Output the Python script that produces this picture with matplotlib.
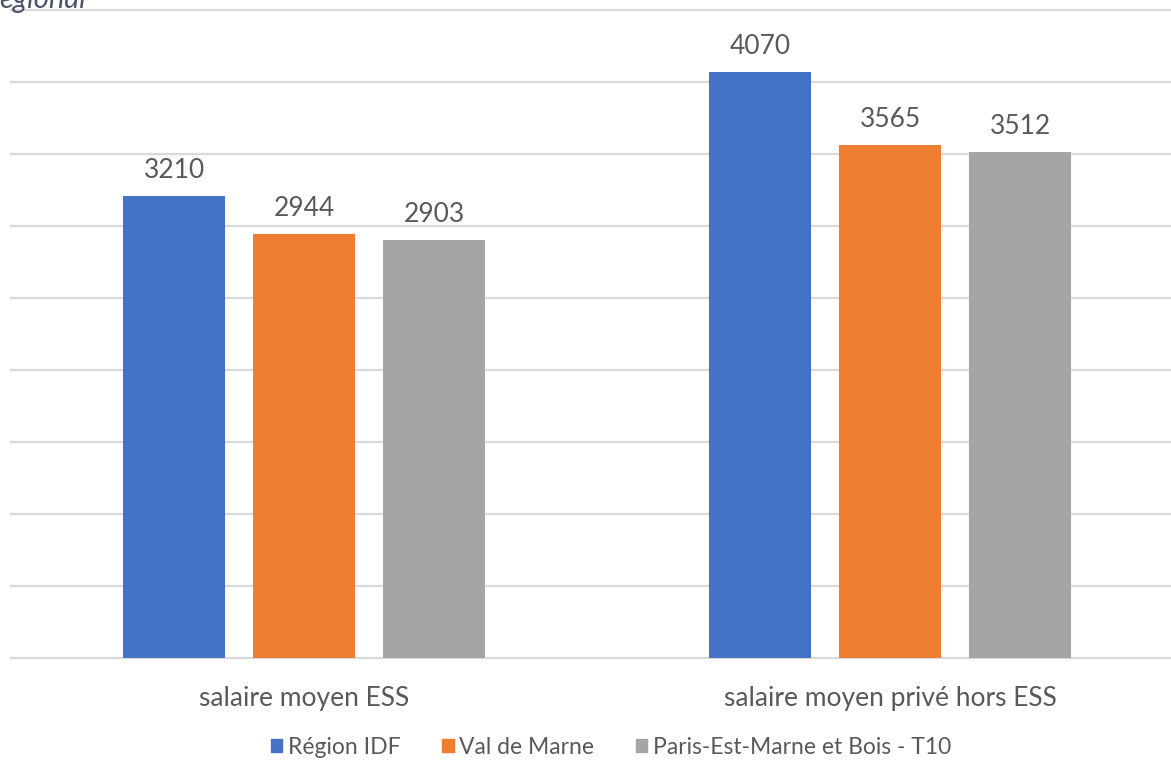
import numpy as np
import matplotlib
matplotlib.use('Agg')
import matplotlib.pyplot as plt
import matplotlib.patches as mpatches

categories = ["salaire moyen ESS", "salaire moyen privé hors ESS"]
series_names = ["Région IDF", "Val de Marne", "Paris-Est-Marne et Bois - T10"]
values = {
    "Région IDF": [3210, 4070],
    "Val de Marne": [2944, 3565],
    "Paris-Est-Marne et Bois - T10": [2903, 3512],
}
colors = ['#4472C4', '#ED7D31', '#A5A5A5']
grid_ticks = np.arange(0, 5000, 500)

plt.rcParams['font.family'] = ['Lato', 'DejaVu Sans']
TEXT = '#595959'

W, H = 1171, 760
fig = plt.figure(figsize=(W / 100, H / 100), dpi=100, facecolor='white')
# axes area runs past the right edge, as in the cropped screenshot
ax = fig.add_axes([11 / W, 102 / H, (1183 - 11) / W, (658 - 10) / H])

x = np.arange(len(categories))
bw = 102 / 586
step = 130 / 586
for k, name in enumerate(series_names):
    xs = x + (k - 1) * step
    bars = ax.bar(xs, values[name], width=bw, color=colors[k], zorder=3)
    for b, v in zip(bars, values[name]):
        ax.annotate(str(v), (b.get_x() + b.get_width() / 2, v),
                    xytext=(0, 13), textcoords='offset points',
                    ha='center', va='baseline', fontsize=19, color=TEXT)

ax.set_xlim(-0.5, 1.5)
ax.set_ylim(0, 4500)
ax.set_yticks(grid_ticks)
ax.set_yticklabels([])
ax.grid(axis='y', color='#D9D9D9', linewidth=1.6, zorder=0)
for ln in ax.get_ygridlines():
    ln.set_clip_on(False)
ax.tick_params(axis='y', length=0)
ax.set_xticks(x)
ax.set_xticklabels(categories, fontsize=19, color=TEXT)
ax.tick_params(axis='x', length=0, pad=20)
for sp in ax.spines.values():
    sp.set_visible(False)

handles = [mpatches.Patch(color=c, label=n) for c, n in zip(colors, series_names)]
fig.legend(handles=handles, loc='center', bbox_to_anchor=(611 / W, 1 - 747 / H),
           ncol=3, frameon=False, fontsize=16.5, labelcolor=TEXT,
           handlelength=0.5, handleheight=0.5, handletextpad=0.25,
           columnspacing=1.8)

# leftover of a heading cut off by the screenshot crop
fig.text(-1 / W, 1 - 8 / H, "egional", fontsize=21, style='italic',
         color='#4A5468', ha='left', va='baseline')

fig.savefig('out.png', dpi=100, facecolor='white')
